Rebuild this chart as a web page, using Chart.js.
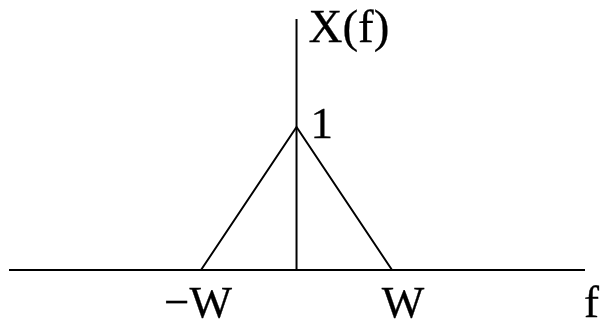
<!DOCTYPE html>
<html><head><meta charset="utf-8">
<script src="https://cdn.jsdelivr.net/npm/chart.js@4"></script>
<style>html,body{margin:0;padding:0;background:#fff}#wrap{width:601px;height:324px}</style>
</head><body><div id="wrap"><canvas id="c" width="601" height="324"></canvas></div>
<script>
// Data
const freq = [-1, 0, 1];          // -W, 0, W
const spectrum = [0, 1, 0];       // X(f)
const axisXRange = [-3.01, 3.02]; // horizontal axis extent (in units of W)
const axisYTop = 1.755;           // vertical axis extent
const tickPos = [-1, 1];
const tickLabels = ['\u2212W', 'W'];
const peakLabel = '1';
const yTitle = 'X(f)';
const xTitle = 'f';

const SERIF = '"Liberation Serif", "Times New Roman", Times, serif';

const labelPlugin = {
  id: 'labels',
  afterDraw(chart) {
    const ctx = chart.ctx, x = chart.scales.x, y = chart.scales.y;
    ctx.save();
    ctx.fillStyle = '#000';
    ctx.strokeStyle = '#000';
    ctx.lineWidth = 0.3;
    ctx.textBaseline = 'alphabetic';
    const put = (t, px, py) => { ctx.fillText(t, px, py); ctx.strokeText(t, px, py); };
    ctx.textAlign = 'left';
    ctx.font = '47px ' + SERIF;
    put(yTitle, x.getPixelForValue(0) + 12, y.getPixelForValue(axisYTop) + 23);
    ctx.font = '45px ' + SERIF;
    put(peakLabel, x.getPixelForValue(0) + 14, y.getPixelForValue(1) + 11);
    ctx.textAlign = 'center';
    const y0 = y.getPixelForValue(0);
    put(tickLabels[0], x.getPixelForValue(tickPos[0]) - 3, y0 + 47);
    put(tickLabels[1], x.getPixelForValue(tickPos[1]) + 11, y0 + 47);
    ctx.textAlign = 'left';
    put(xTitle, x.getPixelForValue(axisXRange[1]) - 1, y0 + 47);
    ctx.restore();
  }
};

new Chart(document.getElementById('c'), {
  type: 'scatter',
  data: {
    datasets: [
      { data: axisXRange.map(v => ({x: v, y: 0})) },
      { data: [{x: 0, y: 0}, {x: 0, y: axisYTop}] },
      { data: freq.map((f, i) => ({x: f, y: spectrum[i]})) }
    ].map(d => Object.assign(d, {
      showLine: true, borderColor: '#000', borderWidth: 2,
      pointRadius: 0, fill: false, clip: false, tension: 0
    }))
  },
  options: {
    responsive: false, animation: false, events: [],
    layout: { padding: { left: 9, right: 16, top: 19, bottom: 54 } },
    plugins: { legend: { display: false }, tooltip: { enabled: false } },
    scales: {
      x: { type: 'linear', min: axisXRange[0], max: axisXRange[1], display: false },
      y: { type: 'linear', min: 0, max: axisYTop, display: false }
    }
  },
  plugins: [labelPlugin]
});
</script></body></html>
